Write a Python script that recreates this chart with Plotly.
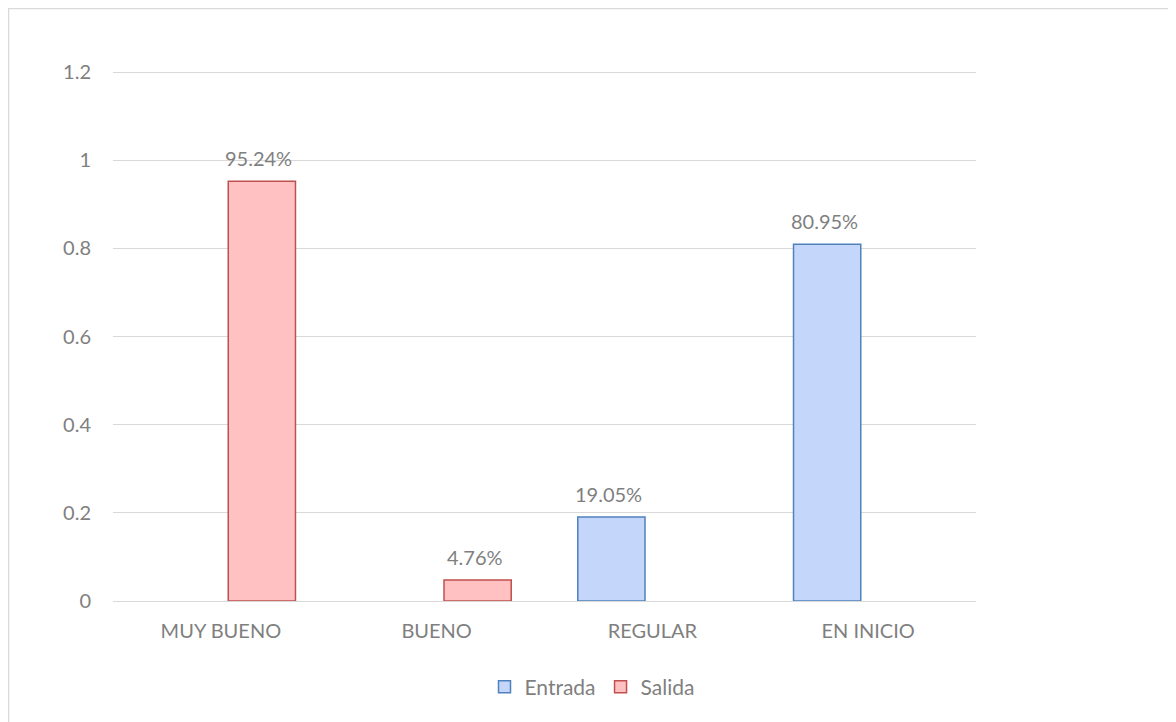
import plotly.graph_objects as go

categories = ["MUY BUENO", "BUENO", "REGULAR", "EN INICIO"]
entrada = [None, None, 0.1905, 0.8095]
salida = [0.9524, 0.0476, None, None]
y_ticks = [0, 0.2, 0.4, 0.6, 0.8, 1.0, 1.2]
y_tick_labels = ["0", "0.2", "0.4", "0.6", "0.8", "1", "1.2"]

def labels(vals):
    return [f"{v*100:.2f}%" if v else "" for v in vals]

GRAY = "#7f7f7f"
FONT = "Lato"
FS = 20

# page body has an 8px margin: work in page coordinates, subtract offset
OFF = 8
W, H = 1176 - OFF, 722 - OFF
YMAX = 1.205
L = 113 - OFF
T = 70 - OFF
R = 1176 - 976
B = 722 - 601
pw, ph = W - L - R, H - T - B

def px(xpage):
    return (xpage - OFF - L) / pw

def py(ypage):
    return (H - B - (ypage - OFF)) / ph

BARGAP = 0.24
GROUPGAP = 0.18
slot_px = pw / len(categories) * (1 - BARGAP) / 2  # width of one series slot

fig = go.Figure()
fig.add_trace(go.Bar(
    name="Entrada", x=categories, y=entrada,
    marker=dict(color="#c4d7fa", line=dict(color="#4f81bd", width=1.5)),
))
fig.add_trace(go.Bar(
    name="Salida", x=categories, y=salida,
    marker=dict(color="#ffc1c1", line=dict(color="#c0504d", width=1.5)),
))

annotations = []
for series, sign in ((entrada, -1), (salida, 1)):
    for cat, v, t in zip(categories, series, labels(series)):
        if v:
            annotations.append(dict(
                x=cat, y=v, xref="x", yref="y", text=t, showarrow=False,
                xshift=sign * slot_px / 2 - 3, yshift=23, yanchor="middle",
                font=dict(color=GRAY, size=FS, family=FONT)))

fig.update_layout(
    width=W, height=H,
    margin=dict(l=L, r=R, t=T, b=B),
    paper_bgcolor="white", plot_bgcolor="white",
    barmode="group", bargap=BARGAP, bargroupgap=GROUPGAP,
    font=dict(family=FONT, color=GRAY, size=FS),
    showlegend=True,
    legend=dict(orientation="h", x=px(592), xanchor="center",
                y=py(687), yanchor="middle",
                font=dict(size=21, color=GRAY, family=FONT),
                itemwidth=30, traceorder="normal"),
    xaxis=dict(showgrid=False, showline=True, linecolor="#d9d9d9", linewidth=1,
               ticks="", tickfont=dict(size=FS, color=GRAY), ticklabelstandoff=12),
    yaxis=dict(range=[0, YMAX], tickvals=y_ticks, ticktext=y_tick_labels,
               showgrid=True, gridcolor="#d9d9d9", gridwidth=1, zeroline=False,
               showline=False, ticks="", tickfont=dict(size=FS, color=GRAY),
               ticklabelstandoff=21),
    annotations=annotations,
    shapes=[dict(type="rect", xref="paper", yref="paper",
                 x0=px(8.5), x1=px(1175),
                 y0=py(730), y1=py(8.5),
                 line=dict(color="#d9d9d9", width=1.5), fillcolor="rgba(0,0,0,0)",
                 layer="below")],
)

fig.write_html("out.html")
